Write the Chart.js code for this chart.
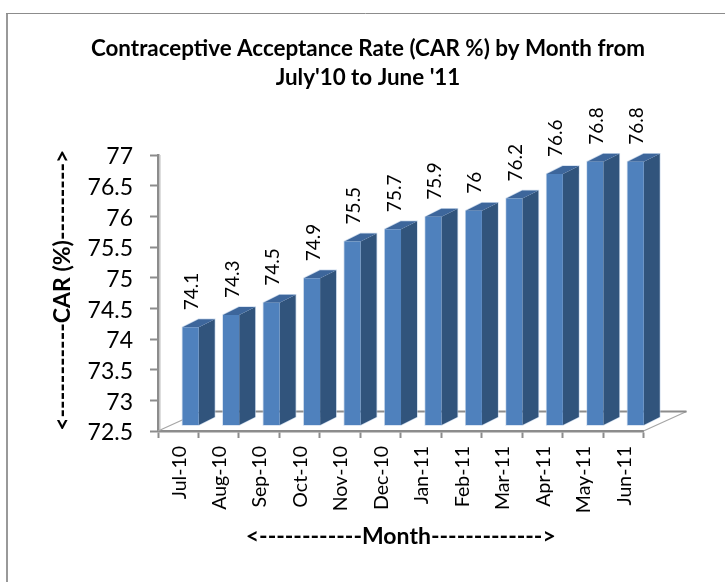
<!DOCTYPE html>
<html>
<head>
<meta charset="utf-8">
<title>CAR by month</title>
<script src="https://cdn.jsdelivr.net/npm/chart.js@4"></script>
<style>
  html, body { margin: 0; padding: 0; background: #fff; }
  #wrap { width: 725px; height: 582px; }
  canvas { display: block; }
</style>
</head>
<body>
<div id="wrap"><canvas id="carChart" width="725" height="582"></canvas></div>
<script>
/* ====== data ====== */
const months = ["Jul-10", "Aug-10", "Sep-10", "Oct-10", "Nov-10", "Dec-10", "Jan-11", "Feb-11", "Mar-11", "Apr-11", "May-11", "Jun-11"];
const carValues = [74.1, 74.3, 74.5, 74.9, 75.5, 75.7, 75.9, 76, 76.2, 76.6, 76.8, 76.8];
const titleLines = ["Contraceptive Acceptance Rate (CAR %) by Month from", "July'10 to June '11"];
const yTitle = " <-----------CAR (%)--------->";
const xTitle = "<------------Month------------->";

const FONT = "Lato, Carlito, sans-serif";
const GREY = "#8c8c8c";
const FRONT = "#4f81bd";
const SIDE = "#31547c";
const TOPC = "#3d669b";
const EDGE = "rgba(185,205,229,0.7)";

// offset of the bars from the axes, and the 3d depth
const shiftX = 12.4, shiftY = -5.6;
const depthX = 16, depthY = -8;

const poly = (ctx, pts, fill) => {
  ctx.beginPath();
  pts.forEach(([x, y], i) => (i ? ctx.lineTo(x, y) : ctx.moveTo(x, y)));
  ctx.closePath();
  ctx.fillStyle = fill;
  ctx.fill();
};

/* ====== fake 3d: frame, title, floor, bar sides, value labels ====== */
const frame3d = {
  id: "frame3d",
  beforeDraw(chart) {
    const { ctx, width, height } = chart;
    ctx.save();
    ctx.fillStyle = "#fff";
    ctx.fillRect(0, 0, width, height);
    ctx.strokeStyle = "#999";
    ctx.lineWidth = 2;
    ctx.beginPath();
    ctx.moveTo(7, height);
    ctx.lineTo(7, 13);
    ctx.stroke();
    ctx.lineWidth = 1;
    ctx.strokeStyle = GREY;
    ctx.beginPath();
    ctx.moveTo(6, 13.5);
    ctx.lineTo(725, 13.5);
    ctx.stroke();
    // title is off-centre from the plot, so it goes here
    ctx.fillStyle = "#000";
    ctx.font = `bold 22.4px ${FONT}`;
    ctx.textAlign = "center";
    ctx.textBaseline = "middle";
    titleLines.forEach((line, i) => ctx.fillText(line, 368, 49 + i * 29));
    ctx.restore();
  },
  beforeDatasetsDraw(chart) {
    const { ctx, chartArea: a } = chart;
    const floorDx = 43, floorDy = -19.5;
    ctx.save();
    ctx.strokeStyle = "#dedede";
    ctx.lineWidth = 1;
    ctx.beginPath();
    ctx.moveTo(a.left + 2.5, a.top);
    ctx.lineTo(a.left + 2.5, a.bottom - 2);
    ctx.stroke();
    ctx.strokeStyle = "#a6a6a6";
    ctx.lineWidth = 1.2;
    ctx.beginPath();
    ctx.moveTo(a.left, a.bottom);
    ctx.lineTo(a.left + floorDx, a.bottom + floorDy);
    ctx.moveTo(a.right + floorDx, a.bottom + floorDy);
    ctx.lineTo(a.right, a.bottom);
    ctx.stroke();
    ctx.strokeStyle = GREY;
    ctx.lineWidth = 2;
    ctx.beginPath();
    ctx.moveTo(a.left + floorDx, a.bottom + floorDy);
    ctx.lineTo(a.right + floorDx, a.bottom + floorDy);
    ctx.stroke();
    ctx.restore();

    // library bars get moved up on to the floor, sides go in first
    ctx.save();
    ctx.translate(shiftX, shiftY);
    chart.getDatasetMeta(0).data.forEach((bar) => {
      const l = bar.x - bar.width / 2, r = bar.x + bar.width / 2;
      // faint light outline round each bar
      ctx.strokeStyle = EDGE;
      ctx.lineWidth = 1.5;
      ctx.beginPath();
      ctx.moveTo(l, bar.base);
      ctx.lineTo(l, bar.y);
      ctx.lineTo(l + depthX, bar.y + depthY);
      ctx.lineTo(r + depthX, bar.y + depthY);
      ctx.lineTo(r + depthX, bar.base + depthY);
      ctx.lineTo(r, bar.base);
      ctx.closePath();
      ctx.stroke();
      poly(ctx, [[r, bar.y], [r + depthX, bar.y + depthY], [r + depthX, bar.base + depthY], [r, bar.base]], SIDE);
      poly(ctx, [[l, bar.y], [l + depthX, bar.y + depthY], [r + depthX, bar.y + depthY], [r, bar.y]], TOPC);
    });
  },
  afterDatasetsDraw(chart) {
    const { ctx } = chart;
    ctx.restore();
    ctx.save();
    ctx.fillStyle = "#000";
    ctx.font = `19px ${FONT}`;
    ctx.textAlign = "left";
    ctx.textBaseline = "middle";
    chart.getDatasetMeta(0).data.forEach((bar, i) => {
      ctx.save();
      ctx.translate(bar.x + shiftX + 1.5, bar.y + shiftY - 17);
      ctx.rotate(-Math.PI / 2);
      ctx.fillText(String(carValues[i]), 0, 0);
      ctx.restore();
    });
    ctx.restore();
  },
};

/* ====== chart ====== */
new Chart(document.getElementById("carChart").getContext("2d"), {
  type: "bar",
  data: {
    labels: months,
    datasets: [
      {
        data: carValues,
        base: 72.5,
        backgroundColor: FRONT,
        barPercentage: 0.4,
        categoryPercentage: 1,
      },
    ],
  },
  options: {
    responsive: false,
    animation: false,
    layout: { padding: { left: 49, right: 81.5, top: 155, bottom: 32 } },
    plugins: {
      legend: { display: false },
      tooltip: { enabled: false },
      title: { display: false },
    },
    scales: {
      x: {
        afterFit: (s) => { s.height = 119; },
        grid: { display: true, drawOnChartArea: false, tickLength: 7, tickColor: GREY, tickWidth: 2 },
        border: { color: GREY, width: 2.5 },
        ticks: { color: "#000", font: { family: FONT, size: 19.5 }, minRotation: 90, maxRotation: 90, padding: 8, labelOffset: 1, autoSkip: false },
        title: { display: true, text: xTitle, color: "#000", font: { family: FONT, size: 23, weight: "bold" }, padding: 0 },
      },
      y: {
        min: 72.5,
        max: 77,
        afterFit: (s) => { s.width = 109; },
        grid: { drawOnChartArea: false, tickLength: 8, tickColor: GREY, tickWidth: 2 },
        border: { color: GREY, width: 2.5 },
        ticks: { stepSize: 0.5, color: "#000", font: { family: FONT, size: 23 }, padding: 17, labelOffset: 2, callback: (v) => String(v) },
        title: { display: true, text: yTitle, color: "#000", font: { family: FONT, size: 23, weight: "bold" }, padding: 0 },
      },
    },
  },
  plugins: [frame3d],
});
</script>
</body>
</html>
